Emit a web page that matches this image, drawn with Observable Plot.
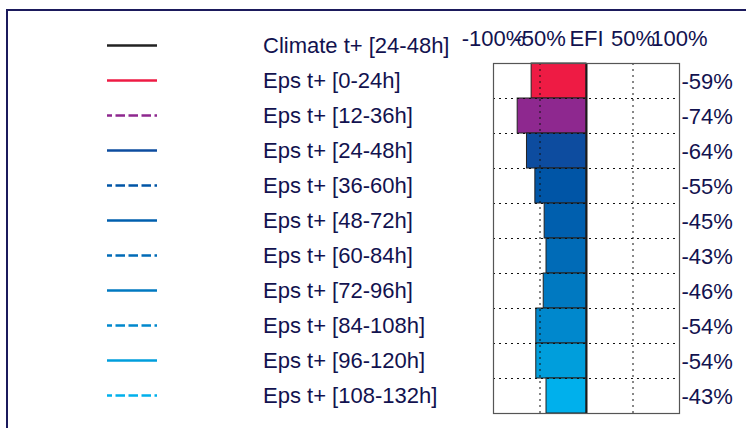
<!DOCTYPE html>
<html>
<head>
<meta charset="utf-8">
<script src="https://cdn.jsdelivr.net/npm/d3@7"></script>
<script src="https://cdn.jsdelivr.net/npm/@observablehq/plot@0.6"></script>
<style>
  html, body { margin: 0; padding: 0; background: #fff; overflow: hidden; }
  #wrap { position: relative; width: 746px; height: 428px; overflow: hidden; font-family: "Liberation Sans", Arial, sans-serif; }
  #border { position: absolute; left: 6px; top: 9px; width: 900px; height: 600px; border-left: 2px solid #1b1a5c; border-top: 2px solid #1b1a5c; }
  #legend { position: absolute; left: 0; top: 0; }
  #chart { position: absolute; left: 0; top: 0; }
</style>
</head>
<body>
<div id="wrap">
  <div id="border"></div>
  <svg id="legend" width="746" height="428"></svg>
  <div id="chart"></div>
</div>
<script>
// ---- data ----
const climateLabel = "Climate t+ [24-48h]";
const climateColor = "#222222";
const labels = ["Eps t+ [0-24h]", "Eps t+ [12-36h]", "Eps t+ [24-48h]", "Eps t+ [36-60h]", "Eps t+ [48-72h]",
                "Eps t+ [60-84h]", "Eps t+ [72-96h]", "Eps t+ [84-108h]", "Eps t+ [96-120h]", "Eps t+ [108-132h]"];
const efi = [-59, -74, -64, -55, -45, -43, -46, -54, -54, -43];
const colors = ["#ee1b44", "#8e288f", "#0d4c9f", "#0055a6", "#005fae", "#006bb7", "#0079c1", "#0088cd", "#009edc", "#00b0ec"];
const dashed = [false, true, false, true, false, true, false, true, false, true];
const xTicks = [-100, -50, 0, 50, 100];
const xTickLabels = ["-100%", "-50%", "EFI", "50%", "100%"];

const rows = labels.map((label, i) => ({label, efi: efi[i], color: colors[i], dashed: dashed[i]}));
const textColor = "#12124f";

// ---- chart ----
const rowH = 35;
const chart = Plot.plot({
  width: 746,
  height: 428,
  marginLeft: 493,
  marginRight: 67,
  marginTop: 63,
  marginBottom: 15,
  style: {fontFamily: "'Liberation Sans', Arial, sans-serif", background: "transparent", overflow: "visible"},
  x: {domain: [-100, 100]},
  y: {domain: labels, padding: 0, axis: null},
  marks: [
    Plot.barX(rows, {x1: 0, x2: "efi", y: "label", fill: "color", stroke: "#222", strokeWidth: 1}),
    Plot.ruleY(rows.slice(1), {y: "label", dy: -rowH / 2, stroke: "#111", strokeWidth: 1, strokeDasharray: "2,4"}),
    Plot.ruleX([-50, 50], {stroke: "#111", strokeWidth: 1, strokeDasharray: "2,4"}),
    Plot.ruleX([0], {stroke: "#1a1a1a", strokeWidth: 2}),
    Plot.frame({stroke: "#555", strokeWidth: 1.2}),
    Plot.text(rows, {y: "label", text: d => d.efi + "%", frameAnchor: "right", textAnchor: "start", dx: 2, dy: 1, fontSize: 22, fill: textColor}),
    Plot.axisX({anchor: "top", ticks: xTicks, tickSize: 0, tickPadding: 18, fontSize: 22, color: textColor,
                tickFormat: d => xTickLabels[xTicks.indexOf(d)], label: null})
  ]
});
document.getElementById("chart").appendChild(chart);

// ---- legend ----
const lg = d3.select("#legend");
const legendRows = [{label: climateLabel, color: climateColor, dashed: false}].concat(rows);
const top0 = 63 - rowH / 2;
legendRows.forEach((r, i) => {
  const cy = top0 + i * rowH;
  lg.append("line").attr("x1", 107).attr("x2", 157).attr("y1", cy).attr("y2", cy)
    .attr("stroke", r.color).attr("stroke-width", 2.5)
    .attr("stroke-dasharray", r.dashed ? "9.5,3.5" : null)
    .attr("stroke-dashoffset", r.dashed ? 4.5 : null);
  lg.append("text").attr("x", 263).attr("y", cy).attr("dy", "0.36em")
    .attr("font-size", 22).attr("fill", textColor)
    .attr("font-family", "'Liberation Sans', Arial, sans-serif")
    .text(r.label);
});
</script>
</body>
</html>
